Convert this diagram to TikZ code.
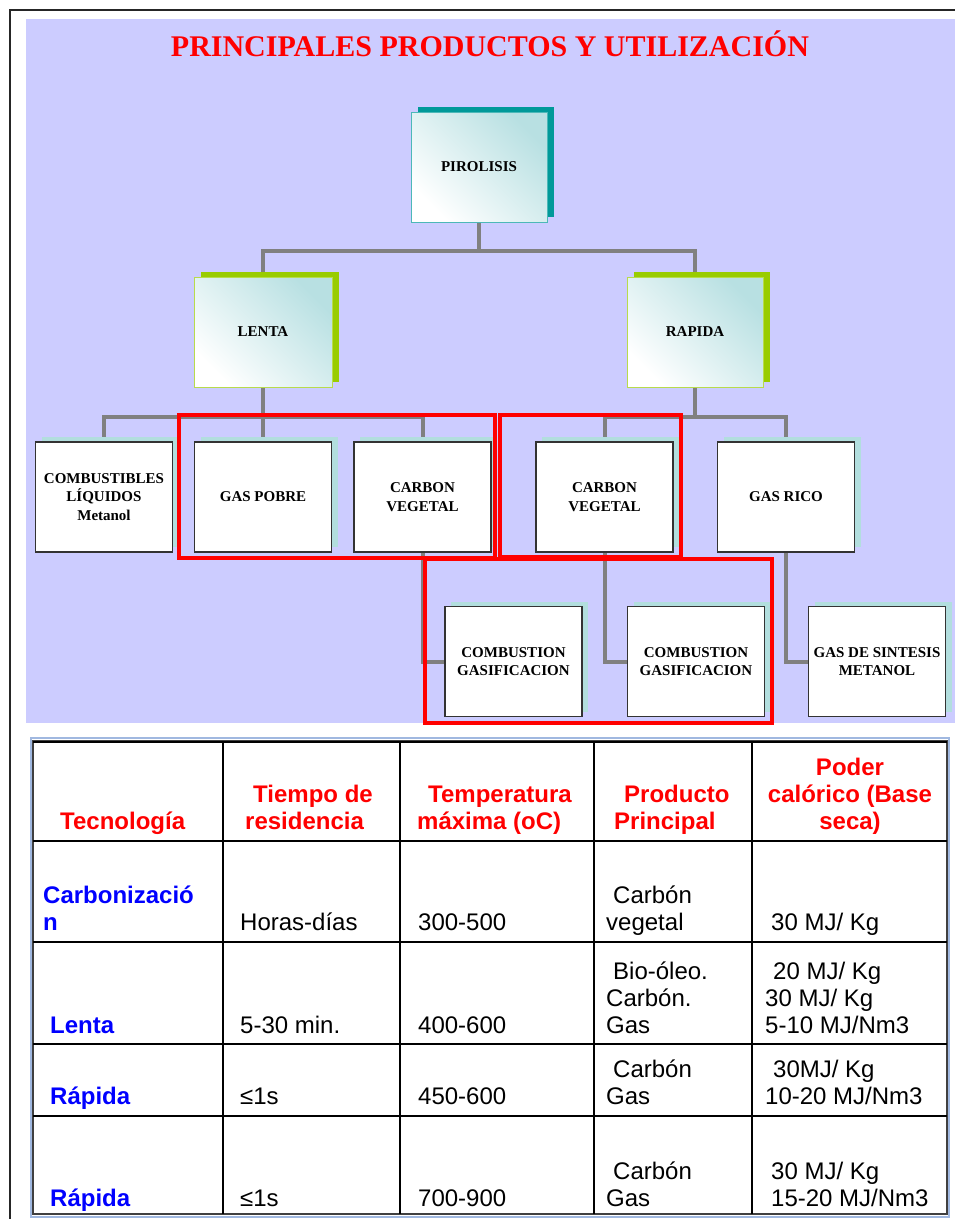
\documentclass[tikz,border=0pt]{standalone}
\usepackage{fontspec}
\setmainfont{Liberation Serif}
\newfontfamily\arialfont{Liberation Sans}
\usepackage{tikz}
\usetikzlibrary{shadows,calc}
\definecolor{lavanda}{RGB}{204,204,255}
\definecolor{verdeazul}{RGB}{0,153,153}
\definecolor{verdelima}{RGB}{153,204,0}
\definecolor{celeste}{RGB}{178,222,222}
\definecolor{degrade}{RGB}{184,224,226}
\definecolor{gris}{RGB}{128,128,128}
\definecolor{bordetabla}{RGB}{160,184,224}
\pgfdeclarelayer{fondo}
\pgfsetlayers{fondo,main}
\tikzstyle{caja}=[rectangle,inner sep=0pt,minimum width=137pt,minimum height=110pt,align=center,font=\fontsize{15}{18.5}\selectfont\bfseries]
\tikzstyle{cajapiro}=[caja,draw=verdeazul!70!white,line width=1pt,top color=degrade,bottom color=white,shading angle=-45,drop shadow={shadow xshift=7pt,shadow yshift=5pt,fill=verdeazul,opacity=1}]
\tikzstyle{cajavel}=[caja,draw=verdelima!70!white,line width=1pt,top color=degrade,bottom color=white,shading angle=-45,drop shadow={shadow xshift=7pt,shadow yshift=5pt,fill=verdelima,opacity=1}]
\tikzstyle{cajainf}=[caja,draw=black!80,line width=1.2pt,fill=white,drop shadow={shadow xshift=6pt,shadow yshift=5pt,fill=celeste,opacity=1}]
\tikzstyle{conector}=[draw=gris,line width=4pt]
\tikzstyle{marco}=[draw=red,line width=4.5pt]
\tikzstyle{celda}=[anchor=south west,inner sep=0pt,text depth=0pt,align=left,font=\arialfont\fontsize{24}{27}\selectfont]
\tikzstyle{cabecera}=[celda,text=red,font=\arialfont\bfseries\fontsize{24}{27}\selectfont]
\tikzstyle{tecno}=[celda,text=blue,font=\arialfont\bfseries\fontsize{24}{27}\selectfont]

\begin{document}
\begin{tikzpicture}[x=1pt,y=-1pt]
	\useasboundingbox (0,0) rectangle (955,1219);
	\begin{pgfonlayer}{fondo}
		\fill[lavanda] (26,19) rectangle (955,723);
	\end{pgfonlayer}
	\draw[black!85,line width=2.5pt] (10,1219) -- (10,10) -- (955,10);
	\node[text=red,font=\fontsize{30}{33}\selectfont\bfseries] (titulo) at (490,44) {PRINCIPALES PRODUCTOS Y UTILIZACIÓN};

	% arbol de la pirolisis
	\node[cajapiro,minimum width=136pt] (piro) at (479,167) {PIROLISIS};
	\node[cajavel,minimum width=138pt] (lenta) at (263,332) {LENTA};
	\node[cajavel,minimum width=136pt] (rapida) at (695,332) {RAPIDA};
	\node[cajainf] (comb) at (104,497) {COMBUSTIBLES\\LÍQUIDOS\\Metanol};
	\node[cajainf] (gpobre) at (263,497) {GAS POBRE};
	\node[cajainf] (cveg1) at (422.5,497) {CARBON\\VEGETAL};
	\node[cajainf] (cveg2) at (604.5,497) {CARBON\\VEGETAL};
	\node[cajainf] (grico) at (786,497) {GAS RICO};
	\node[cajainf] (combg1) at (513.5,661.5) {COMBUSTION\\GASIFICACION};
	\node[cajainf] (combg2) at (696,661.5) {COMBUSTION\\GASIFICACION};
	\node[cajainf] (gsint) at (877,661.5) {GAS DE SINTESIS\\METANOL};

	\begin{pgfonlayer}{fondo}
		\draw[conector] (piro.south) -- ++(0,28) coordinate (rama1) -| (lenta.north);
		\draw[conector] (rama1) -| (rapida.north);
		\draw[conector] (lenta.south) -- ++(0,29) coordinate (rama2) -| (comb.north);
		\draw[conector] (rama2) -| (cveg1.north);
		\draw[conector] (lenta.south) -- (gpobre.north);
		\draw[conector] (rapida.south) -- ++(0,29) coordinate (rama3) -| (cveg2.north);
		\draw[conector] (rama3) -| (grico.north);
		\draw[conector] (cveg1.south) |- (combg1.west);
		\draw[conector] (cveg2.south) |- (combg2.west);
		\draw[conector] (grico.south) |- (gsint.west);
	\end{pgfonlayer}

	\draw[marco] (179,415) rectangle (495,558);
	\draw[marco] (500,415) rectangle (681,557);
	\draw[marco] (425,559) rectangle (772,723);

	% tabla
	\draw[bordetabla,line width=2.5pt] (31,738) rectangle (949,1217);
	\draw[black!75,line width=1.5pt] (33,741) rectangle (947,1214);
	\foreach \y in {742,841,942,1044}
		\draw[line width=2.5pt] (33,\y) -- (947,\y);
	\draw[line width=1.3pt] (33,1116) -- (947,1116);
	\foreach \x in {223,400,594,752}
		\draw[line width=1.2pt] (\x,741) -- (\x,1214);

	\node[cabecera] (h1) at (60,830) {Tecnología};
	\node[cabecera] (h2) at (245,830) {\hspace{8pt}Tiempo de\\residencia};
	\node[cabecera] (h3) at (417,830) {\hspace{11pt}Temperatura\\máxima (oC)};
	\node[cabecera] (h4) at (614,830) {\hspace{10pt}Producto\\Principal};
	\node[cabecera,anchor=south,align=center] (h5) at (850,830) {Poder\\calórico (Base\\seca)};

	\node[tecno] (t1) at (43,931) {Carbonizació\\n};
	\node[celda] (t1b) at (240,931) {Horas-días};
	\node[celda] (t1c) at (418,931) {300-500};
	\node[celda] (t1d) at (606,931) {\hspace{7pt}Carbón\\vegetal};
	\node[celda] (t1e) at (771,931) {30 MJ/ Kg};

	\node[tecno] (t2) at (50,1034) {Lenta};
	\node[celda] (t2b) at (240,1034) {5-30 min.};
	\node[celda] (t2c) at (418,1034) {400-600};
	\node[celda] (t2d) at (606,1034) {\hspace{7pt}Bio-óleo.\\Carbón.\\Gas};
	\node[celda] (t2e) at (765,1034) {\hspace{8pt}20 MJ/ Kg\\30 MJ/ Kg\\5-10 MJ/Nm3};

	\node[tecno] (t3) at (50,1105) {Rápida};
	\node[celda] (t3b) at (240,1105) {≤1s};
	\node[celda] (t3c) at (418,1105) {450-600};
	\node[celda] (t3d) at (606,1105) {\hspace{7pt}Carbón\\Gas};
	\node[celda] (t3e) at (765,1105) {\hspace{8pt}30MJ/ Kg\\10-20 MJ/Nm3};

	\node[tecno] (t4) at (50,1207) {Rápida};
	\node[celda] (t4b) at (240,1207) {≤1s};
	\node[celda] (t4c) at (418,1207) {700-900};
	\node[celda] (t4d) at (606,1207) {\hspace{7pt}Carbón\\Gas};
	\node[celda] (t4e) at (771,1207) {30 MJ/ Kg\\15-20 MJ/Nm3};
\end{tikzpicture}
\end{document}
